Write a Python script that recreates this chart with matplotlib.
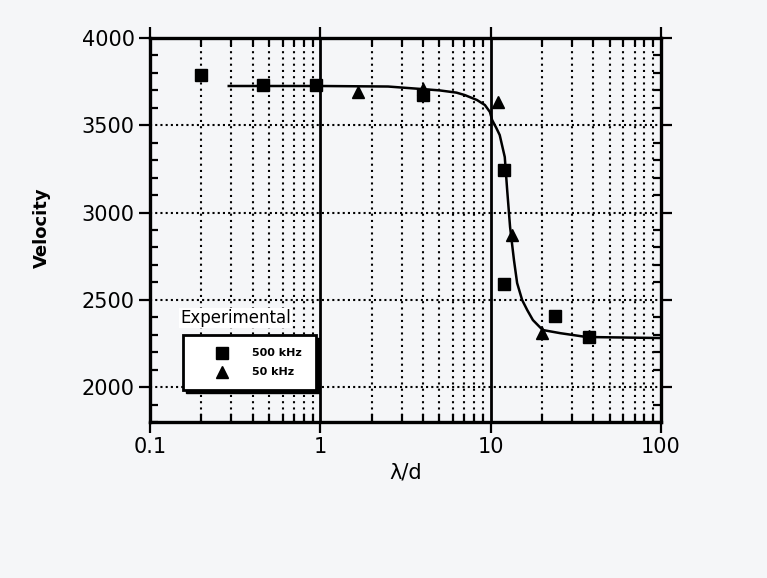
import matplotlib
matplotlib.use("Agg")
import matplotlib.pyplot as plt
from matplotlib.lines import Line2D
from matplotlib.patches import Rectangle
from matplotlib.ticker import LogLocator, MultipleLocator, FixedLocator, FixedFormatter, NullFormatter

# medidas experimentais (velocidade x lambda/d)
x_500k = [0.2, 0.46, 0.94, 4.0, 12.0, 12.0, 24.0, 38.0]
v_500k = [3790, 3730, 3730, 3675, 3245, 2590, 2410, 2285]
x_50k = [1.66, 4.0, 11.0, 13.4, 20.0, 38.0]
v_50k = [3690, 3705, 3635, 2870, 2310, 2290]

# curva teorica
x_teo = [0.29, 1.0, 2.5, 5.0, 6.3, 7.05, 8.3, 9.25, 9.9, 10.2, 10.8, 11.3, 12.1,
         12.5, 13.0, 13.7, 14.3, 15.3, 16.4, 17.7, 20.2, 25.6, 36.5, 100]
v_teo = [3725, 3725, 3722, 3700, 3687, 3673, 3645, 3616, 3576, 3530, 3484, 3444, 3318,
         3129, 2917, 2728, 2596, 2499, 2441, 2384, 2327, 2309, 2287, 2281]

xticks = [0.1, 1, 10, 100]
xticklabels = ["0.1", "1", "10", "100"]
yticks = [2000, 2500, 3000, 3500, 4000]

FUNDO = "#f5f6f8"

fig = plt.figure(figsize=(7.67, 5.78), dpi=100, facecolor=FUNDO)
W, H = 767, 578
ax = fig.add_axes([150 / W, 1 - 422 / H, 511 / W, 384 / H])
ax.set_facecolor(FUNDO)

ax.set_xscale("log")
ax.set_xlim(0.1, 100)
ax.set_ylim(1800, 4000)

# grade: verticais menores pontilhadas, 1 e 10 continuas, horizontais pontilhadas
ax.grid(which="minor", axis="x", color="black", linestyle=(0, (1, 2)), linewidth=1.5)
ax.grid(which="major", axis="y", color="black", linestyle=(0, (1, 1.5)), linewidth=1.5)
for xv in [1, 10]:
    ax.axvline(xv, color="black", linewidth=2, zorder=1)

ax.plot(x_teo, v_teo, color="black", linewidth=1.8, zorder=3)
ax.plot(x_500k, v_500k, linestyle="none", marker="s", markersize=9,
        color="black", zorder=4)
ax.plot(x_50k, v_50k, linestyle="none", marker="^", markersize=9,
        color="black", zorder=4)

ax.xaxis.set_major_locator(FixedLocator(xticks))
ax.xaxis.set_major_formatter(FixedFormatter(xticklabels))
ax.xaxis.set_minor_locator(LogLocator(base=10, subs=range(2, 10)))
ax.xaxis.set_minor_formatter(NullFormatter())
ax.yaxis.set_major_locator(FixedLocator(yticks))
ax.yaxis.set_minor_locator(MultipleLocator(100))

ax.tick_params(which="major", direction="out", length=8, width=1.6,
               top=True, right=True, pad=3, labelsize=15, colors="black")
ax.tick_params(which="minor", direction="in", length=6, width=1.6,
               top=True, right=True)

for sp in ax.spines.values():
    sp.set_linewidth(2.4)
    sp.set_color("black")

ax.set_xlabel("λ/d", fontsize=15, labelpad=4)
fig.text(42 / W, 1 - 228 / H, "Velocity", rotation=90, fontsize=13,
         fontweight="bold", ha="center", va="center")

# legenda desenhada a mao, com sombra
bx, by, bw, bh = 183, 335, 133, 55
fig.patches.append(Rectangle(((bx + 3) / W, 1 - (by + bh + 3) / H), bw / W, bh / H,
                             transform=fig.transFigure, facecolor="black",
                             edgecolor="black", zorder=5))
fig.patches.append(Rectangle((bx / W, 1 - (by + bh) / H), bw / W, bh / H,
                             transform=fig.transFigure, facecolor="white",
                             edgecolor="black", linewidth=2, zorder=6))
fig.lines.append(Line2D([222 / W], [1 - 353 / H], transform=fig.transFigure,
                        marker="s", markersize=8, color="black", zorder=7))
fig.lines.append(Line2D([222 / W], [1 - 372 / H], transform=fig.transFigure,
                        marker="^", markersize=8, color="black", zorder=7))
fig.text(252 / W, 1 - 353 / H, "500 kHz", fontsize=8, fontweight="bold",
         va="center", ha="left", zorder=8)
fig.text(252 / W, 1 - 372 / H, "50 kHz", fontsize=8, fontweight="bold",
         va="center", ha="left", zorder=8)
fig.text(180 / W, 1 - 318 / H, "Experimental", fontsize=12,
         va="center", ha="left", zorder=8,
         bbox=dict(facecolor="white", edgecolor="none", pad=1))

fig.savefig("out.png", dpi=100, facecolor=FUNDO)
